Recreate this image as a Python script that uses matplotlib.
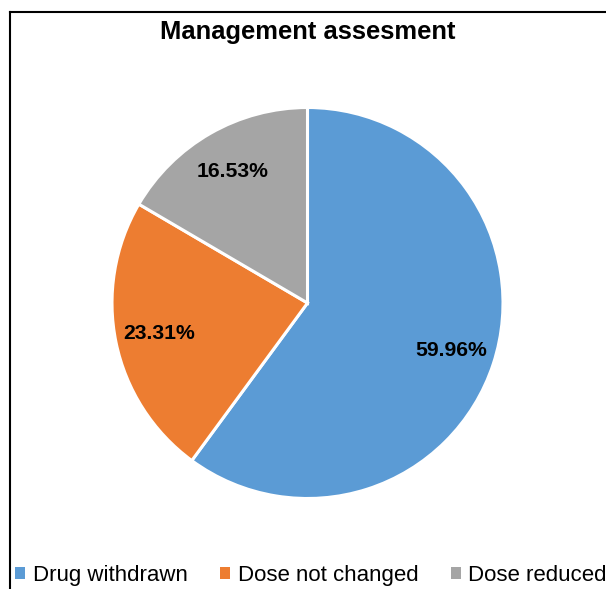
import matplotlib
matplotlib.use("Agg")
import matplotlib.pyplot as plt
from matplotlib.patches import Patch
from matplotlib.lines import Line2D

categories = ["Drug withdrawn", "Dose not changed", "Dose reduced"]
shares = [59.96, 23.31, 16.53]
colors = ["#5B9BD5", "#ED7D31", "#A5A5A5"]

plt.rcParams["font.family"] = ["Liberation Sans", "DejaVu Sans"]

W, H = 606, 589
fig = plt.figure(figsize=(W / 100, H / 100), dpi=100)
fig.patch.set_facecolor("white")

# pie area: centre (307.5, 303) px, radius ~195.5 px
cx, cy, r = 307.5, 303, 195.5
ax = fig.add_axes([(cx - r) / W, (H - cy - r) / H, 2 * r / W, 2 * r / H])
wedges, _, autotexts = ax.pie(
    shares,
    colors=colors,
    startangle=90,
    counterclock=False,
    autopct="%1.2f",
    pctdistance=0.775,
    wedgeprops=dict(edgecolor="white", linewidth=2.2),
    radius=1,
)
for t, v in zip(autotexts, shares):
    t.set_text(f"{v:.2f}%")
    t.set_fontsize(15.2)
    t.set_fontweight("bold")
    t.set_color("black")
ax.set_xlim(-1.0, 1.0)
ax.set_ylim(-1.0, 1.0)
ax.set_aspect("equal")
ax.axis("off")

fig.text(307.5 / W, 1 - 32 / H, "Management assesment", ha="center", va="center",
         fontsize=18.4, fontweight="bold")

handles = [Patch(facecolor=c, edgecolor="none") for c in colors]
fig.legend(handles, categories, loc="center", bbox_to_anchor=(311 / W, 1 - 575.5 / H),
           ncol=3, frameon=False, fontsize=16, handlelength=0.45, handleheight=0.45,
           handletextpad=0.35, columnspacing=1.45, borderpad=0, borderaxespad=0)

# chart frame (left and top edges visible)
fig.add_artist(Line2D([10 / W, 10 / W], [0, 1 - 12 / H], color="black", lw=1.5,
                      transform=fig.transFigure))
fig.add_artist(Line2D([10 / W, 1.0], [1 - 12 / H, 1 - 12 / H], color="black", lw=1.5,
                      transform=fig.transFigure))

fig.savefig("out.png", dpi=100)
